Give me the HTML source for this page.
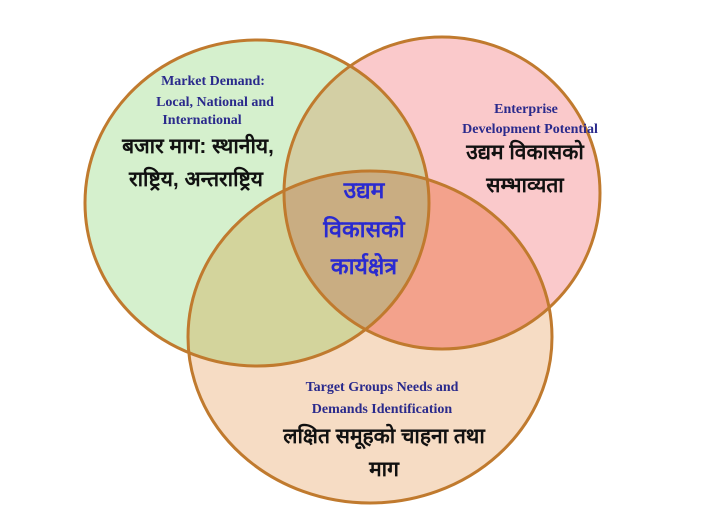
<!DOCTYPE html>
<html><head><meta charset="utf-8"><style>
html,body{margin:0;padding:0;background:#fff;width:720px;height:514px;overflow:hidden}
svg{display:block}
.en{font-family:"Liberation Serif",serif;font-weight:bold;fill:#2a2a8c;font-size:14px}
.np{font-family:"Liberation Sans","Noto Sans CJK SC",sans-serif;font-weight:bold;fill:#111;font-size:21px}
.c{font-family:"Liberation Sans","Noto Sans CJK SC",sans-serif;font-weight:bold;fill:#2a2ad0;font-size:23px}
</style></head><body>
<svg width="720" height="514" viewBox="0 0 720 514">
<defs>
<clipPath id="L"><ellipse cx="257" cy="203" rx="172" ry="163"/></clipPath>
<clipPath id="R"><ellipse cx="442" cy="193" rx="158" ry="156"/></clipPath>
<clipPath id="B"><ellipse cx="370" cy="337" rx="182" ry="166"/></clipPath>
</defs>
<ellipse cx="257" cy="203" rx="172" ry="163" fill="#d5f0cd"/>
<ellipse cx="442" cy="193" rx="158" ry="156" fill="#fac9cb"/>
<ellipse cx="370" cy="337" rx="182" ry="166" fill="#f6dcc4"/>
<g clip-path="url(#L)"><ellipse cx="442" cy="193" rx="158" ry="156" fill="#d3cfa4"/></g>
<g clip-path="url(#L)"><ellipse cx="370" cy="337" rx="182" ry="166" fill="#d3d49c"/></g>
<g clip-path="url(#R)"><ellipse cx="370" cy="337" rx="182" ry="166" fill="#f3a28c"/></g>
<g clip-path="url(#L)"><g clip-path="url(#R)"><ellipse cx="370" cy="337" rx="182" ry="166" fill="#c9ad82"/></g></g>
<g fill="none" stroke="#c07a2e" stroke-width="3">
<ellipse cx="257" cy="203" rx="172" ry="163"/>
<ellipse cx="442" cy="193" rx="158" ry="156"/>
<ellipse cx="370" cy="337" rx="182" ry="166"/>
</g>
<text class="en" x="213" y="85" text-anchor="middle">Market Demand:</text>
<text class="en" x="215" y="106" text-anchor="middle">Local, National and</text>
<text class="en" x="202" y="124" text-anchor="middle">International</text>
<text class="np" x="198" y="153" text-anchor="middle">बजार माग: स्थानीय,</text>
<text class="np" x="196" y="186" text-anchor="middle">राष्ट्रिय, अन्तराष्ट्रिय</text>
<text class="en" x="526" y="113" text-anchor="middle">Enterprise</text>
<text class="en" x="530" y="133" text-anchor="middle">Development Potential</text>
<text class="np" x="525" y="159" text-anchor="middle">उद्यम विकासको</text>
<text class="np" x="525" y="192" text-anchor="middle">सम्भाव्यता</text>
<text class="c" x="364" y="198" text-anchor="middle">उद्यम</text>
<text class="c" x="364" y="237" text-anchor="middle">विकासको</text>
<text class="c" x="364" y="274" text-anchor="middle">कार्यक्षेत्र</text>
<text class="en" x="382" y="391" text-anchor="middle">Target Groups Needs and</text>
<text class="en" x="382" y="413" text-anchor="middle">Demands Identification</text>
<text class="np" x="384" y="443" text-anchor="middle">लक्षित समूहको चाहना तथा</text>
<text class="np" x="384" y="476" text-anchor="middle">माग</text>
</svg>
</body></html>
